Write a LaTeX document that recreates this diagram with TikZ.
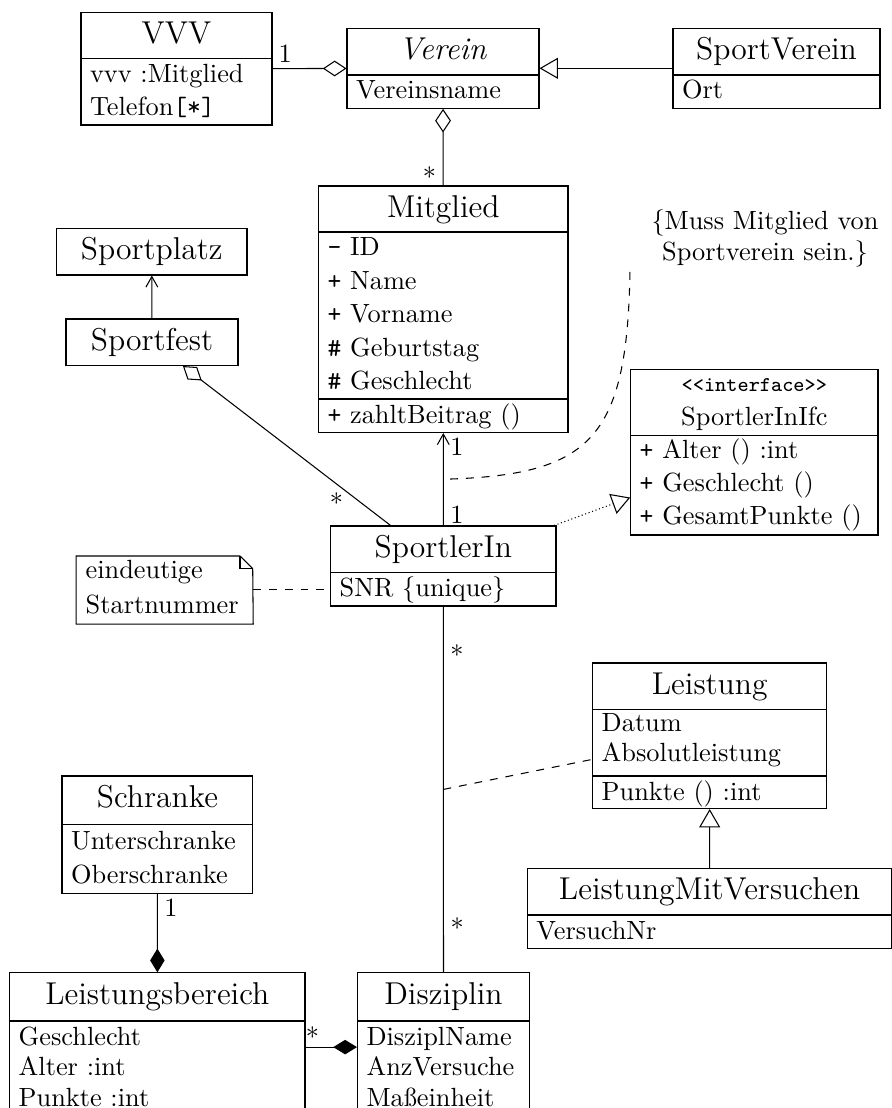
\documentclass[tikz,border=0pt]{standalone}
\usepackage{tikz}
\usetikzlibrary{arrows.meta, positioning, fit}

\tikzset{
  klasse/.style={draw, inner sep=0pt},
  titel/.style={anchor=base, inner sep=0pt, font=\large},
  ifcname/.style={anchor=base, inner sep=0pt},
  stereotyp/.style={anchor=base, inner sep=0pt, font=\footnotesize\ttfamily},
  attr/.style={anchor=base west, inner sep=0pt},
  mult/.style={inner sep=2.5pt},
  aggregation/.style={-{Diamond[open, length=9pt, width=6pt]}},
  komposition/.style={-{Diamond[length=9pt, width=5.5pt]}},
  vererbung/.style={-{Triangle[open, length=7pt, width=8pt]}},
  realisierung/.style={densely dotted, -{Triangle[open, length=7pt, width=8pt]}},
  navigierbar/.style={-{Straight Barb[length=4pt, width=4.5pt]}},
}

\begin{document}
\begin{tikzpicture}[x=0.38pt, y=-0.38pt]
  % Tamaño de la figura
  \useasboundingbox (0,0) rectangle (891,1108);

  % Clase VVV
  \node[klasse, fit={(81,12.5) (272,125)}] (vvv) {};
  \draw (81,58.5) -- (272,58.5);
  \node[titel] (vvv-t) at (176.5,44) {VVV};
  \node[attr] (vvv-a1) at (89.5,82.5) {vvv :Mitglied};
  \node[attr] (vvv-a2) at (89.5,115.9) {Telefon\texttt{[*]}};

  % Clase Verein
  \node[klasse, fit={(347,28.3) (539,108.3)}] (verein) {};
  \draw (347,75) -- (539,75);
  \node[titel] (verein-t) at (443,59.8) {\textit{Verein}};
  \node[attr] (verein-a1) at (355.5,99) {Vereinsname};

  % Clase SportVerein
  \node[klasse, fit={(673,28.3) (880,108.3)}] (sportverein) {};
  \draw (673,75) -- (880,75);
  \node[titel] (sportverein-t) at (776.5,59.8) {SportVerein};
  \node[attr] (sportverein-a1) at (681.5,99) {Ort};

  % Clase Mitglied
  \node[klasse, fit={(318.5,186) (568,432.5)}] (mitglied) {};
  \draw (318.5,232) -- (568,232) (318.5,399) -- (568,399);
  \node[titel] (mitglied-t) at (443.25,217.5) {Mitglied};
  \foreach \eintrag [count=\i] in {{\texttt{-} ID}, {\texttt{+} Name}, {\texttt{+} Vorname}, {\texttt{\#} Geburtstag}, {\texttt{\#} Geschlecht}}
    \node[attr] (mitglied-a\i) at (327,222.6+33.4*\i) {\eintrag};
  \node[attr] (mitglied-m1) at (327,423) {\texttt{+} zahltBeitrag ()};

  % Sportplatz y Sportfest
  \node[klasse, fit={(56.5,228.3) (247,275)}] (sportplatz) {};
  \node[titel] (sportplatz-t) at (151.75,259.8) {Sportplatz};
  \node[klasse, fit={(66,319) (238,365.5)}] (sportfest) {};
  \node[titel] (sportfest-t) at (152,350.5) {Sportfest};

  % Interfaz
  \node[klasse, fit={(630.7,369.3) (878,535)}] (ifc) {};
  \draw (630.7,435.7) -- (878,435.7);
  \node[stereotyp] (ifc-s) at (754.35,391.7) {<<interface>>};
  \node[ifcname] (ifc-t) at (754.35,425) {SportlerInIfc};
  \foreach \eintrag [count=\i] in {{\texttt{+} Alter () :int}, {\texttt{+} Geschlecht ()}, {\texttt{+} GesamtPunkte ()}}
    \node[attr] (ifc-m\i) at (639.2,425.6+33.1*\i) {\eintrag};

  % Clase SportlerIn
  \node[klasse, fit={(330.7,526) (556,606)}] (sportlerin) {};
  \draw (330.7,572.3) -- (556,572.3);
  \node[titel] (sportlerin-t) at (443.35,557.3) {SportlerIn};
  \node[attr] (sportlerin-a1) at (339.2,596.5) {SNR \{unique\}};

  % Nota
  \node[fit={(76.7,556) (252.7,623.5)}, inner sep=0pt] (notiz) {};
  \draw (notiz.south west) |- (240,556) -- (252.7,568.5) -- (notiz.south east) -- cycle;
  \draw (240,556) |- (252.7,568.5);
  \node[attr] (notiz-1) at (85.2,578.5) {eindeutige};
  \node[attr] (notiz-2) at (85.2,613) {Startnummer};

  % Clase Leistung
  \node[klasse, fit={(592.7,663) (826.7,808.5)}] (leistung) {};
  \draw (592.7,709.3) -- (826.7,709.3) (592.7,776) -- (826.7,776);
  \node[titel] (leistung-t) at (709.7,694.5) {Leistung};
  \node[attr] (leistung-a1) at (601.2,731) {Datum};
  \node[attr] (leistung-a2) at (601.2,761.5) {Absolutleistung};
  \node[attr] (leistung-m1) at (601.2,800) {Punkte () :int};

  % Clase LeistungMitVersuchen
  \node[klasse, fit={(527.3,868.3) (892,948.3)}] (lmv) {};
  \draw (527.3,915) -- (892,915);
  \node[titel] (lmv-t) at (709.65,899.8) {LeistungMitVersuchen};
  \node[attr] (lmv-a1) at (535.8,939) {VersuchNr};

  % Clase Schranke
  \node[klasse, fit={(62,776) (252.8,893.4)}] (schranke) {};
  \draw (62,824.5) -- (252.8,824.5);
  \node[titel] (schranke-t) at (157.4,807.5) {Schranke};
  \node[attr] (schranke-a1) at (70.5,849.5) {Unterschranke};
  \node[attr] (schranke-a2) at (70.5,883) {Oberschranke};

  % Clase Leistungsbereich
  \node[klasse, fit={(9.7,972.8) (305,1121.4)}] (lb) {};
  \draw (9.7,1021) -- (305,1021);
  \node[titel] (lb-t) at (157.35,1004.3) {Leistungsbereich};
  \foreach \eintrag [count=\i] in {Geschlecht, Alter :int, Punkte :int}
    \node[attr] (lb-a\i) at (18.2,1014.5+30.5*\i) {\eintrag};

  % Clase Disziplin
  \node[klasse, fit={(357.5,972.8) (529.5,1121.4)}] (disziplin) {};
  \draw (357.5,1021) -- (529.5,1021);
  \node[titel] (disziplin-t) at (443.5,1004.3) {Disziplin};
  \foreach \eintrag [count=\i] in {DisziplName, AnzVersuche, Maßeinheit}
    \node[attr] (disziplin-a\i) at (366,1014.5+30.5*\i) {\eintrag};

  % Restricción
  \node[anchor=south, align=center, inner xsep=8pt, inner ysep=1.5pt] (bedingung) at (765,272) {\{Muss Mitglied von\\Sportverein sein.\}};

  % Relaciones
  \draw[aggregation] (vvv) -- node[pos=0.17, above, inner sep=2pt] (m-vvv) {1} (verein);
  \draw[vererbung] (sportverein) -- (verein);
  \draw[aggregation] (mitglied) -- node[mult, pos=0.116, left] (m-mitglied) {*} (verein);
  \draw[navigierbar] (sportfest) -- (sportplatz);
  \draw[aggregation] (sportlerin) -- node[mult, pos=0.17, left, xshift=-2pt, yshift=-1.5pt] (m-sportfest) {*} (sportfest);
  \draw[navigierbar] (sportlerin) -- node[mult, pos=0.118, right] (m-sl1) {1} coordinate[midway] (ass-mitglied) node[mult, pos=0.856, right] (m-mg1) {1} (mitglied);
  \draw[realisierung] (sportlerin) -- (ifc);
  \draw[dashed] (notiz.east) -- (notiz.east -| sportlerin.west);
  \draw[dashed] (bedingung.south west) .. controls +(-3,168) and +(147,-4) .. (ass-mitglied);
  \draw (sportlerin) -- node[mult, pos=0.131, right] (m-sl2) {*} coordinate[midway] (ass-disziplin) node[mult, pos=0.878, right] (m-dz) {*} (disziplin);
  \draw[dashed] (ass-disziplin) -- (leistung);
  \draw[vererbung] (lmv) -- (leistung);
  \draw[komposition] (schranke) -- node[mult, pos=0.18, right] (m-schranke) {1} (lb);
  \draw[komposition] (lb) -- node[pos=0.133, above, inner sep=0pt] (m-lb) {*} (disziplin);
\end{tikzpicture}
\end{document}
